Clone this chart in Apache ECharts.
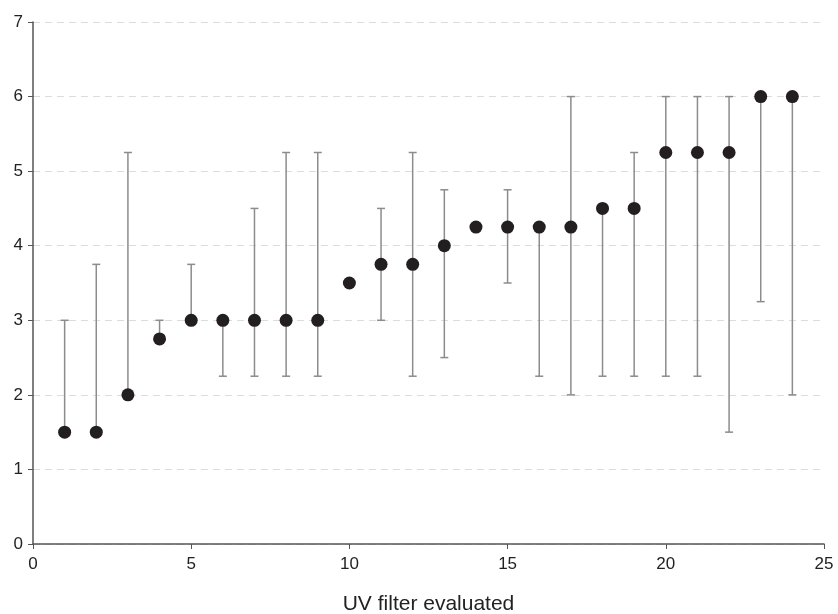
<!DOCTYPE html>
<html><head><meta charset="utf-8">
<script src="https://cdn.jsdelivr.net/npm/echarts@6/dist/echarts.min.js"></script>
<style>html,body{margin:0;padding:0;background:#fff}#c{width:838px;height:614px}</style>
</head><body><div id="c"></div>
<script>
const filters = [1,2,3,4,5,6,7,8,9,10,11,12,13,14,15,16,17,18,19,20,21,22,23,24];
const medians = [1.5,1.5,2,2.75,3,3,3,3,3,3.5,3.75,3.75,4,4.25,4.25,4.25,4.25,4.5,4.5,5.25,5.25,5.25,6,6];
const lows    = [1.5,1.5,2,2.75,3,2.25,2.25,2.25,2.25,3.5,3,2.25,2.5,4.25,3.5,2.25,2,2.25,2.25,2.25,2.25,1.5,3.25,2];
const highs   = [3,3.75,5.25,3,3.75,3,4.5,5.25,5.25,3.5,4.5,5.25,4.75,4.25,4.75,4.25,6,4.5,5.25,6,6,6,6,6];
const xTicks = [0,5,10,15,20,25];
const yTicks = [0,1,2,3,4,5,6,7];

const barData = filters.map((f,i)=>[f, lows[i], highs[i]]);
const ptData = filters.map((f,i)=>[f, medians[i]]);

const chart = echarts.init(document.getElementById('c'));
const font = 'Liberation Sans, Arial, sans-serif';
chart.setOption({
  animation:false,
  grid:{left:33,right:14,top:22,bottom:70,containLabel:false,outerBoundsMode:'none'},
  xAxis:{type:'value',min:xTicks[0],max:xTicks[xTicks.length-1],interval:5,
    name:'UV filter evaluated',nameLocation:'middle',nameGap:50,
    nameTextStyle:{fontFamily:font,fontSize:21,color:'#222',verticalAlign:'top'},
    axisLine:{lineStyle:{color:'#555',width:1.5}},
    axisTick:{show:true,length:5,lineStyle:{color:'#555'}},
    axisLabel:{fontFamily:font,fontSize:17,color:'#222',margin:12},
    splitLine:{show:false}},
  yAxis:{type:'value',min:yTicks[0],max:yTicks[yTicks.length-1],interval:1,
    axisLine:{show:true,lineStyle:{color:'#555',width:1.5}},
    axisTick:{show:true,length:5,lineStyle:{color:'#555'}},
    axisLabel:{fontFamily:font,fontSize:17,color:'#222',margin:10},
    splitLine:{show:true,lineStyle:{color:'#dcdcdc',type:[7,5],width:1}}},
  series:[
    {type:'custom',data:barData,z:2,
     renderItem:function(params,api){
       const x=api.value(0);
       const lo=api.coord([x,api.value(1)]);
       const hi=api.coord([x,api.value(2)]);
       const w=4;
       const st={stroke:'#8c8c8c',lineWidth:1.5};
       if (Math.abs(lo[1]-hi[1])<0.5) return {type:'group',children:[]};
       return {type:'group',children:[
         {type:'line',shape:{x1:lo[0],y1:lo[1],x2:hi[0],y2:hi[1]},style:st},
         {type:'line',shape:{x1:lo[0]-w,y1:lo[1],x2:lo[0]+w,y2:lo[1]},style:st},
         {type:'line',shape:{x1:hi[0]-w,y1:hi[1],x2:hi[0]+w,y2:hi[1]},style:st}
       ]};
     }},
    {type:'scatter',data:ptData,symbolSize:13,z:3,
     itemStyle:{color:'#231f20',opacity:1}}
  ]
});
</script></body></html>
